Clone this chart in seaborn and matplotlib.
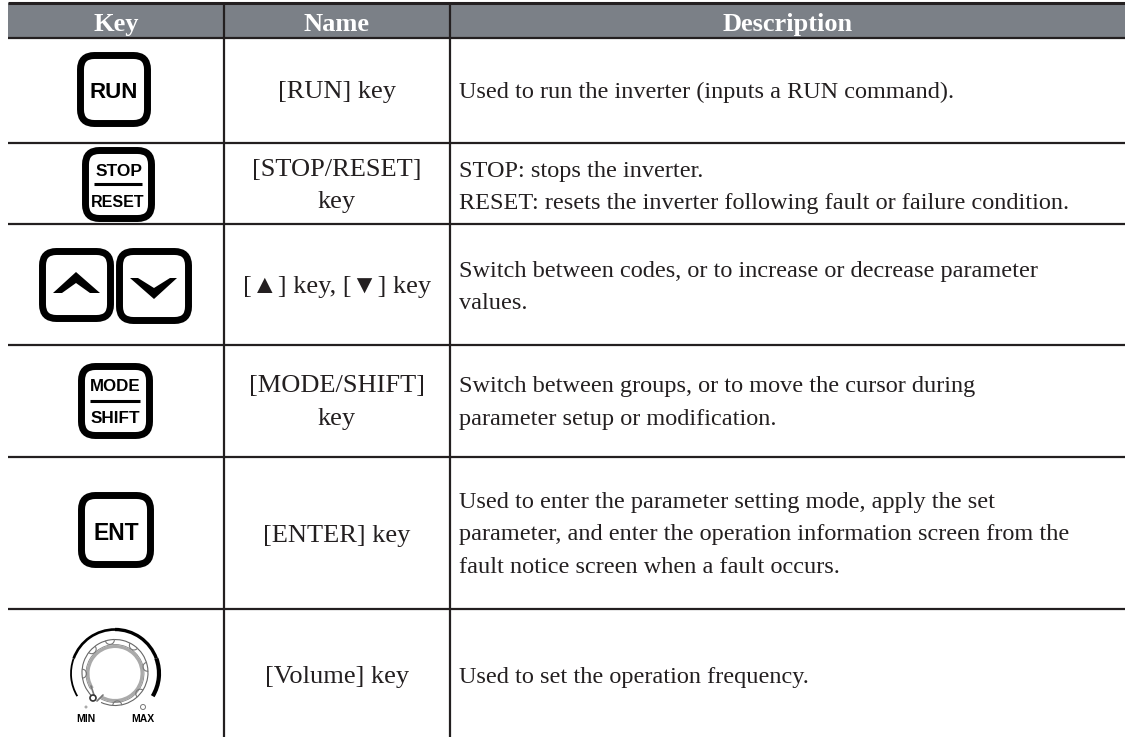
import numpy as np
import matplotlib
matplotlib.use("Agg")
import matplotlib.pyplot as plt
from matplotlib.patches import FancyBboxPatch, Rectangle, Polygon, Arc, Circle
import seaborn as sns

# ---- table content ----
headers = ["Key", "Name", "Description"]
header_x = [116, 337, 788]
names = [
    ["[RUN] key"],
    ["[STOP/RESET]", "key"],
    ["[▲] key, [▼] key"],
    ["[MODE/SHIFT]", "key"],
    ["[ENTER] key"],
    ["[Volume] key"],
]
name_baselines = [[98], [176, 208], [293], [392, 425], [542], [683]]
descriptions = [
    ["Used to run the inverter (inputs a RUN command)."],
    ["STOP: stops the inverter.",
     "RESET: resets the inverter following fault or failure condition."],
    ["Switch between codes, or to increase or decrease parameter", "values."],
    ["Switch between groups, or to move the cursor during",
     "parameter setup or modification."],
    ["Used to enter the parameter setting mode, apply the set",
     "parameter, and enter the operation information screen from the",
     "fault notice screen when a fault occurs."],
    ["Used to set the operation frequency."],
]
desc_baselines = [[98], [177, 209], [277, 309], [392, 425], [508, 540, 573], [683]]
row_rules = [38, 143, 224, 345, 457, 609]
col_rules = [224, 450]

INK = "#231f20"
HEADER = "#7b8087"
SERIF = ["Liberation Serif", "DejaVu Sans"]
SANS = "Liberation Sans"
BODY = 17.5
NAME = 19

sns.set_theme(style="white")
fig = plt.figure(figsize=(11.25, 7.37), dpi=100)
ax = fig.add_axes([0, 0, 1, 1])
ax.set_xlim(0, 1125)
ax.set_ylim(737, 0)
ax.axis("off")

# header band and rules
ax.add_patch(Rectangle((8, 3), 1117, 35, fc=HEADER, ec="none", zorder=1))
ax.hlines(3, 8, 1125, color=INK, lw=2.2, zorder=3)
ax.hlines(row_rules, 8, 1125, color=INK, lw=1.6, zorder=3)
ax.vlines(col_rules, 3, 737, color=INK, lw=1.6, zorder=3)

for h, x in zip(headers, header_x):
    ax.text(x, 31, h, ha="center", va="baseline", color="white",
            family=SERIF, weight="bold", fontsize=NAME)

for lines, ys in zip(names, name_baselines):
    for t, y in zip(lines, ys):
        ax.text(337, y, t, ha="center", va="baseline", color=INK,
                family=SERIF, fontsize=NAME)
for lines, ys in zip(descriptions, desc_baselines):
    for t, y in zip(lines, ys):
        ax.text(459, y, t, ha="left", va="baseline", color=INK,
                family=SERIF, fontsize=BODY)


def key(x0, y0, x1, y1):
    pad = 14
    ax.add_patch(FancyBboxPatch((x0 + pad + 3.5, y0 + pad + 3.5),
                                x1 - x0 - 2 * pad - 7, y1 - y0 - 2 * pad - 7,
                                boxstyle=f"round,pad={pad},rounding_size={pad}",
                                fc="white", ec="black", lw=5, zorder=4))


def label(x, y, t, size):
    ax.text(x, y, t, ha="center", va="center_baseline", color="black", family=SANS,
            weight="bold", fontsize=size, zorder=5)


key(77, 52, 151, 127)
label(114, 90, "RUN", 16)

key(82, 147, 155, 222)
label(119, 170, "STOP", 12.5)
ax.hlines(184, 94, 142, color="black", lw=2.2, zorder=5)
label(118, 201, "RESET", 11.5)

key(39, 248, 114, 322)
key(116, 248, 192, 324)
ax.add_patch(Polygon([(53, 293), (76, 272), (100, 293), (90, 293), (76, 283), (62, 293)],
                     fc="black", ec="none", zorder=5))
ax.add_patch(Polygon([(130, 278), (138, 278), (154, 288), (170, 278), (177, 278), (154, 299)],
                     fc="black", ec="none", zorder=5))

key(78, 363, 153, 439)
label(115, 385, "MODE", 12.2)
ax.hlines(401, 90, 140, color="black", lw=2.2, zorder=5)
label(115, 417, "SHIFT", 12.3)

key(78, 492, 154, 568)
label(116, 531, "ENT", 16.5)

# volume knob
cx, cy = 115, 673.5
arc_spans = [(149, 200), (200, 270), (270, 340), (340, 391)]
arc_widths = [1.3, 1.9, 2.4, 3.0]
for (a, b), w in zip(arc_spans, arc_widths):
    ax.add_patch(Arc((cx, cy), 88, 88, theta1=a, theta2=b, ec="black", lw=w, zorder=5))
ax.add_patch(Arc((cx, cy - 1), 66, 66, theta1=-225, theta2=115, ec="#666666", lw=0.8, zorder=5))
ax.add_patch(Arc((cx, cy), 54, 54, theta1=147, theta2=481, ec="#aaaaaa", lw=2.2, zorder=5))
ax.add_patch(Arc((cx, cy), 58, 58, theta1=147, theta2=481, ec="#888888", lw=0.6, zorder=5))
for deg in [261, 305, 350, 40, 86, 178, 225]:
    ang = np.deg2rad(deg)
    ax.add_patch(Arc((cx + 33 * np.cos(ang), cy - 1 + 33 * np.sin(ang)), 9, 9,
                     theta1=deg + 90, theta2=deg + 270, ec="#777777", lw=0.8, zorder=5))
ax.plot([91, 95], [686, 698], color="#777777", lw=1.2, zorder=5)
ax.plot([103, 97], [695, 701], color="#777777", lw=1.2, zorder=5)
ax.add_patch(Circle((93, 698), 3, fc="white", ec="#333333", lw=1.2, zorder=6))
ax.add_patch(Circle((86, 707), 1.5, fc="#aaaaaa", ec="none", zorder=6))
ax.add_patch(Circle((143, 707), 2.5, fc="white", ec="#777777", lw=0.7, zorder=6))
label(86, 718, "MIN", 7.5)
label(143, 718, "MAX", 7.5)

fig.savefig("out.png", dpi=100)
